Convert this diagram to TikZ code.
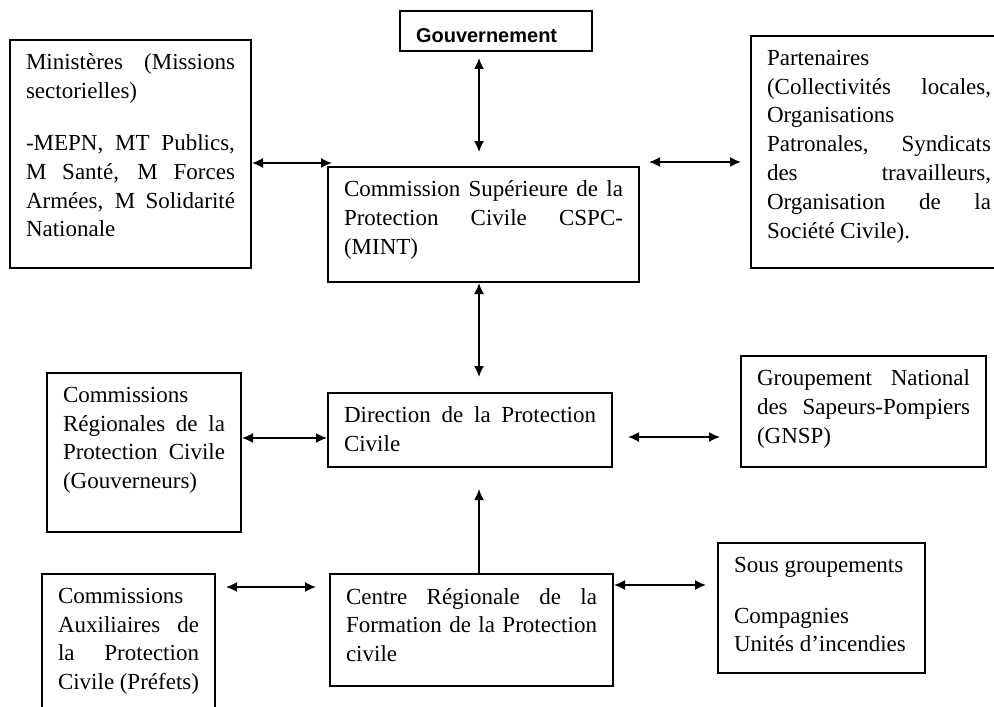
\documentclass[tikz,border=0pt]{standalone}
\usepackage{fontspec}
\setmainfont{Liberation Serif}
\newfontfamily\govfont{Liberation Sans}
\usetikzlibrary{arrows.meta}

% texte justifié, calé en haut du cadre
\newcommand{\boxtxt}[3]{\parbox[c][#2][t]{#1}{\tolerance=10000\hyphenpenalty=10000\exhyphenpenalty=10000 #3}}

\begin{document}
\begin{tikzpicture}[
    x=0.5pt, y=-0.5pt,
    bloc/.style={rectangle, draw, line width=1pt, inner xsep=8pt, inner ysep=7pt, font=\fontsize{11.5}{14.4}\selectfont},
    line/.style={{Latex[length=5.5pt,width=5pt]}-{Latex[length=5.5pt,width=5pt]}, line width=0.8pt},
    fleche/.style={-{Latex[length=5.5pt,width=5pt]}, line width=0.8pt}
]
\useasboundingbox (0,0) rectangle (994,706);
\clip (0,0) rectangle (994,706);

% Niveau national
\node[bloc, font=\govfont\bfseries\fontsize{10}{12}\selectfont] (gouv) at (496,31) {\boxtxt{80pt}{6pt}{\vspace*{2pt}Gouvernement}};
\node[bloc] (min) at (130.5,154) {\boxtxt{104.5pt}{100pt}{Ministères (Missions\linebreak sectorielles)\par\vspace{11.5pt}
    -MEPN, MT Publics,\linebreak M Santé, M Forces\linebreak Armées, M Solidarité\linebreak Nationale}};
\node[bloc] (cspc) at (483.5,224.5) {\boxtxt{139.5pt}{43.5pt}{Commission Supérieure de la\linebreak Protection Civile CSPC-\linebreak (MINT)}};
\node[bloc] (part) at (879,152) {\boxtxt{112pt}{102pt}{Partenaires\linebreak (Collectivités locales,\linebreak Organisations\linebreak
    Patronales, Syndicats\linebreak des travailleurs,\linebreak Organisation de la\linebreak Société Civile).}};

% Direction
\node[bloc] (creg) at (144,452.5) {\boxtxt{81pt}{65.5pt}{Commissions\linebreak Régionales de la\linebreak Protection Civile\linebreak (Gouverneurs)}};
\node[bloc] (dir) at (470,430) {\boxtxt{126pt}{23pt}{Direction de la Protection\linebreak Civile}};
\node[bloc] (gnsp) at (863.5,411.5) {\boxtxt{106.5pt}{41.5pt}{Groupement National\linebreak des Sapeurs-Pompiers\linebreak (GNSP)}};

% Niveau local
\node[bloc] (caux) at (128.5,647) {\boxtxt{70.5pt}{59pt}{Commissions\linebreak Auxiliaires de\linebreak la Protection\linebreak Civile (Préfets)}};
\node[bloc] (crfpc) at (471.5,630) {\boxtxt{125.5pt}{42pt}{Centre Régionale de la\linebreak Formation de la Protection\linebreak civile}};
\node[bloc] (sous) at (821.5,608) {\boxtxt{87.5pt}{51pt}{Sous groupements\par\vspace{11pt}
    Compagnies\\ Unités d’incendies}};

% Repères des liaisons
\coordinate (axe) at (479,0);
\coordinate (r1) at (0,163);
\coordinate (r2) at (0,162);
\coordinate (r3) at (0,438);
\coordinate (r4) at (0,437);
\coordinate (r5) at (0,587);
\coordinate (r6) at (0,585);

% Liaisons
\draw[line, shorten <=3pt, shorten >=7pt] (gouv.south -| axe) -- (cspc.north -| axe);
\draw[line, shorten >=7.5pt] (cspc.south -| axe) -- (dir.north -| axe);
\draw[fleche, shorten >=10.5pt] (crfpc.north -| axe) -- (dir.south -| axe);
\draw[line, shorten >=-2.5pt] (min.east |- r1) -- (cspc.west |- r1);
\draw[line, shorten <=4.5pt, shorten >=4.5pt] (cspc.east |- r2) -- (part.west |- r2);
\draw[line] (creg.east |- r3) -- (dir.west |- r3);
\draw[line, shorten <=7.5pt, shorten >=10pt] (dir.east |- r4) -- (gnsp.west |- r4);
\draw[line, shorten <=5pt, shorten >=6.5pt] (caux.east |- r5) -- (crfpc.west |- r5);
\draw[line, shorten >=5.5pt] (crfpc.east |- r6) -- (sous.west |- r6);

\end{tikzpicture}
\end{document}
